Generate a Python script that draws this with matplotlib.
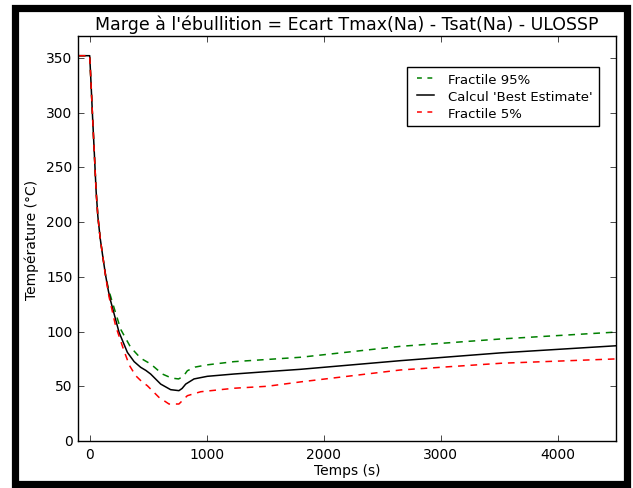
import matplotlib

matplotlib.use("Agg")
import matplotlib.pyplot as plt
from matplotlib.patches import Rectangle

plt.style.use("classic")
plt.rcParams["figure.facecolor"] = "white"
plt.rcParams["savefig.facecolor"] = "white"
plt.rcParams["font.family"] = ["DejaVu Sans"]

# Courbes (temps en s, température en °C)
t_best = [-200, 0, 10, 25, 40, 55, 70, 90, 110, 135, 160, 179, 251, 322, 380, 436, 480,
          521, 607, 692, 763, 790, 821, 892, 1006, 1234, 1519, 1803, 2658, 3513, 4500]
T_best = [352, 352, 330, 295, 262, 228, 205, 185, 170, 152, 137, 128, 99.3, 81, 72.5, 67.3, 64.5,
          61.2, 52, 46.9, 46, 48, 52, 56.7, 59.1, 61.2, 63.4, 65.5, 73.4, 80.5, 87]

t_95 = [-200, 0, 10, 25, 40, 55, 70, 90, 110, 135, 160, 194, 265, 350, 436, 521,
        621, 700, 760, 800, 835, 900, 1000, 1234, 1519, 1803, 2658, 3513, 4500]
T_95 = [352, 352, 330, 295, 262, 228, 205, 185, 170, 152, 139, 126.7, 102, 85.6, 75.6, 70.4,
        61.2, 57.5, 56.7, 59, 64.2, 67.5, 69.5, 72.5, 74.5, 76.5, 86.5, 93.2, 99.5]

t_5 = [-200, 0, 10, 25, 40, 55, 70, 90, 110, 135, 165, 222, 293, 340, 393, 443, 493, 592,
       678, 763, 835, 949, 1234, 1519, 1803, 2658, 3513, 4500]
T_5 = [352, 352, 330, 295, 262, 228, 205, 185, 170, 151, 132, 105, 82.5, 69, 59.7, 54.5, 50.5, 39.9,
       33.8, 33.8, 41.4, 45, 48.2, 50, 54, 64.9, 71, 75]

fig = plt.figure(figsize=(6.33, 4.89), dpi=100)
ax = fig.add_axes([78 / 633, 1 - 442 / 489, 538 / 633, 405 / 489])

dash = (4.8, 4.2)
ax.plot(t_95, T_95, "g--", lw=1.1, dashes=dash, label="Fractile 95%")
ax.plot(t_best, T_best, "k-", lw=1.1, label="Calcul 'Best Estimate'")
ax.plot(t_5, T_5, "r--", lw=1.1, dashes=dash, label="Fractile 5%")

ax.set_xlim(-100, 4500)
ax.set_ylim(0, 370)
ax.set_xticks([0, 1000, 2000, 3000, 4000])
ax.set_yticks(range(0, 351, 50))
ax.tick_params(labelsize=10)
ax.set_xlabel("Temps (s)", fontsize=10, labelpad=2)
ax.set_ylabel("Température (°C)", fontsize=10)
ax.set_title("Marge à l'ébullition = Ecart Tmax(Na) - Tsat(Na) - ULOSSP", fontsize=12.5)

leg = ax.legend(loc="upper right", bbox_to_anchor=(0.968, 0.9235), borderaxespad=0,
                fontsize=9.5, handlelength=1.9, handletextpad=0.75, labelspacing=0.3,
                borderpad=0.45, frameon=True)
for h in leg.get_lines():
    if h.get_linestyle() == "--":
        h.set_dashes((3.5, 4.0))

# cadre noir autour de la figure
fig.add_artist(Rectangle((15 / 633, 1 - 485 / 489), 612 / 633, 476.5 / 489,
                         transform=fig.transFigure, fill=False, ec="black", lw=5.2))

fig.savefig("out.png", dpi=100)
